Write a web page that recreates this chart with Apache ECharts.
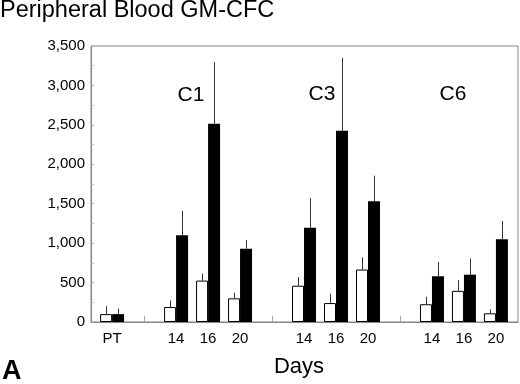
<!DOCTYPE html>
<html>
<head>
<meta charset="utf-8">
<script src="https://cdn.jsdelivr.net/npm/echarts@6/dist/echarts.min.js"></script>
<style>
  html, body { margin: 0; padding: 0; background: #fff; }
  #chart { width: 520px; height: 384px; }
</style>
</head>
<body>
<div id="chart"></div>
<script>
// blank entries are the gaps between the PT / C1 / C3 / C6 groups
const categories = ["PT", "", "14", "16", "20", "", "14", "16", "20", "", "14", "16", "20"];
const groupNames = ["C1", "C3", "C6"];
const whiteMean = [100, null, 190, 525, 300, null, 460, 240, 665, null, 225, 395, 110];
const whiteErr = [100, null, 85, 90, 70, null, 110, 120, 155, null, 95, 135, 50];
const blackMean = [100, null, 1100, 2515, 930, null, 1195, 2425, 1530, null, 580, 600, 1050];
const blackErr = [70, null, 310, 780, 110, null, 375, 925, 325, null, 180, 205, 230];
const yTicks = [0, 3500, 500];

const FONT = '"Liberation Sans", Arial, sans-serif';
const BAR_W = 12;

const gapIdx = [];
const labelIdx = [];
categories.forEach((c, i) => (c === "" ? gapIdx : labelIdx).push(i));

function barData(mean) {
  return mean.map((v, i) => [i, v]);
}

function errData(mean, err) {
  let data = [];
  mean.forEach((v, i) => {
    if (v !== null) data.push([i, v, v + err[i]]);
  });
  return data;
}

function errSeries(mean, err, shift) {
  return {
    type: "custom",
    silent: true,
    z: 1,
    data: errData(mean, err),
    renderItem(params, api) {
      const p0 = api.coord([api.value(0), api.value(1)]);
      const p1 = api.coord([api.value(0), api.value(2)]);
      const x = Math.round(p0[0] + shift) + 0.5;
      return {
        type: "line",
        shape: { x1: x, y1: p0[1], x2: x, y2: p1[1] },
        style: { stroke: "#333", lineWidth: 1 },
      };
    },
  };
}

const myChart = echarts.init(document.getElementById("chart"));
const option = {
  backgroundColor: "#fff",
  animation: false,
  title: {
    text: "Peripheral Blood GM-CFC",
    left: 0,
    top: -1,
    padding: 0,
    textStyle: { fontFamily: FONT, fontSize: 23.5, fontWeight: "normal", color: "#000" },
  },
  grid: {
    left: 91,
    right: 2,
    top: 46,
    bottom: 62,
    show: true,
    borderColor: "#858585",
    borderWidth: 1,
  },
  xAxis: {
    type: "value",
    min: -0.66,
    max: 12.69,
    splitLine: { show: false },
    axisLine: { onZero: false, lineStyle: { color: "#858585" } },
    axisTick: {
      inside: true,
      length: 6,
      customValues: gapIdx,
      lineStyle: { color: "#aaa" },
    },
    axisLabel: {
      customValues: labelIdx,
      formatter: (v) => categories[v],
      fontFamily: FONT,
      fontSize: 15,
      color: "#000",
      margin: 9,
    },
  },
  yAxis: {
    type: "value",
    min: yTicks[0],
    max: yTicks[1],
    interval: yTicks[2],
    splitLine: { show: false },
    axisLine: { show: true, onZero: false, lineStyle: { color: "#858585" } },
    axisTick: { inside: true, length: 3, lineStyle: { color: "#aaa" } },
    minorTick: { show: true, splitNumber: 2, length: 3, lineStyle: { color: "#bbb" } },
    axisLabel: { fontFamily: FONT, fontSize: 15, color: "#000", margin: 6 },
  },
  series: [
    {
      type: "bar",
      barWidth: BAR_W,
      barGap: "0%",
      z: 2,
      itemStyle: { color: "#fff", borderColor: "#000", borderWidth: 1 },
      data: barData(whiteMean),
    },
    {
      type: "bar",
      barWidth: BAR_W,
      barGap: "0%",
      z: 2,
      itemStyle: { color: "#000" },
      data: barData(blackMean),
    },
    errSeries(whiteMean, whiteErr, -BAR_W / 2),
    errSeries(blackMean, blackErr, BAR_W / 2),
  ],
  graphic: [
    { type: "text", x: 191, y: 95, style: { text: groupNames[0], font: "21px " + FONT, fill: "#000", align: "center", verticalAlign: "middle" } },
    { type: "text", x: 322, y: 94, style: { text: groupNames[1], font: "21px " + FONT, fill: "#000", align: "center", verticalAlign: "middle" } },
    { type: "text", x: 453, y: 94, style: { text: groupNames[2], font: "21px " + FONT, fill: "#000", align: "center", verticalAlign: "middle" } },
    { type: "text", x: 299, y: 367, style: { text: "Days", font: "22px " + FONT, fill: "#000", align: "center", verticalAlign: "middle" } },
    { type: "text", x: 2, y: 372, style: { text: "A", font: "bold 27px " + FONT, fill: "#000", align: "left", verticalAlign: "middle" } },
  ],
};
myChart.setOption(option);
</script>
</body>
</html>
